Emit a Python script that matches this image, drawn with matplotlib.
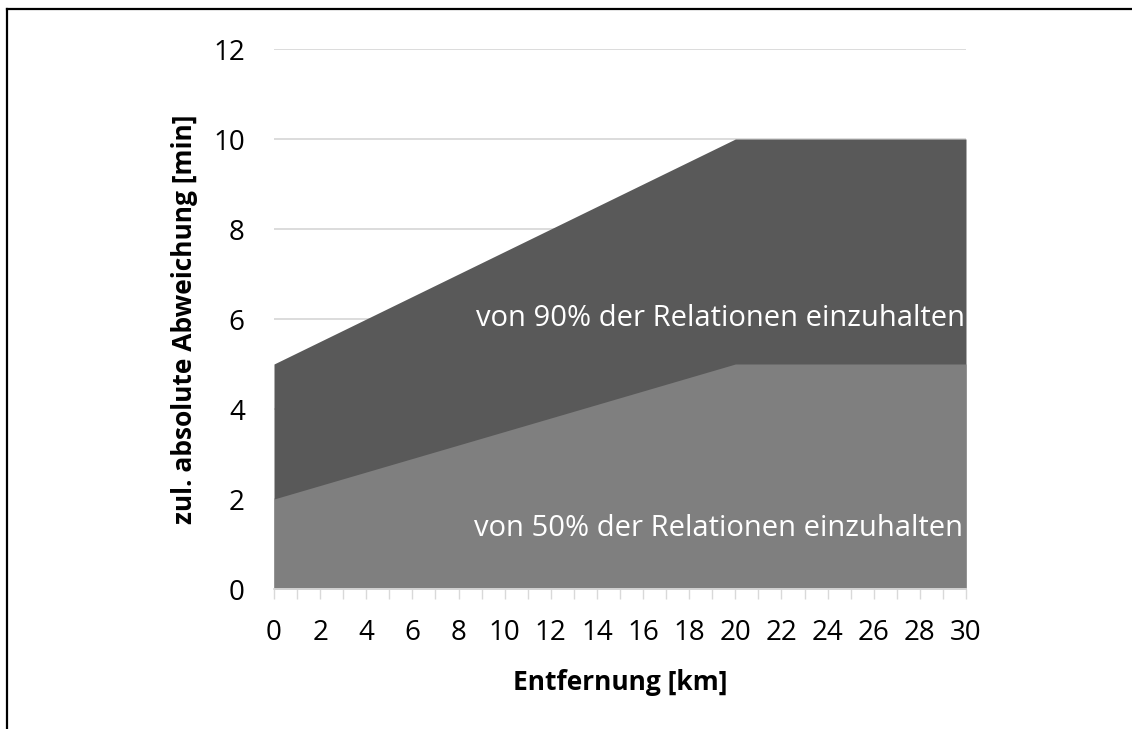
import matplotlib
matplotlib.use("Agg")
import matplotlib.pyplot as plt
from matplotlib.lines import Line2D
import numpy as np

km = list(range(0, 31))
p50 = [2.0, 2.15, 2.3, 2.45, 2.6, 2.75, 2.9, 3.05, 3.2, 3.35,
       3.5, 3.65, 3.8, 3.95, 4.1, 4.25, 4.4, 4.55, 4.7, 4.85,
       5.0, 5.0, 5.0, 5.0, 5.0, 5.0, 5.0, 5.0, 5.0, 5.0, 5.0]
p90 = [5.0, 5.25, 5.5, 5.75, 6.0, 6.25, 6.5, 6.75, 7.0, 7.25,
       7.5, 7.75, 8.0, 8.25, 8.5, 8.75, 9.0, 9.25, 9.5, 9.75,
       10.0, 10.0, 10.0, 10.0, 10.0, 10.0, 10.0, 10.0, 10.0, 10.0, 10.0]
label90 = "von 90% der Relationen einzuhalten"
label50 = "von 50% der Relationen einzuhalten"
xticks = list(range(0, 31, 2))
yticks = list(range(0, 13, 2))

plt.rcParams['font.family'] = ['Open Sans', 'DejaVu Sans']

fig = plt.figure(figsize=(11.32, 7.29), dpi=100)
ax = fig.add_axes([274 / 1132, 1 - 589 / 729, (966 - 274) / 1132, (589 - 49) / 729])

grau = '#d9d9d9'
ax.fill_between(km, 0, p90, color='#595959', lw=0, zorder=2)
ax.fill_between(km, 0, p50, color='#7f7f7f', lw=0, zorder=3)

ax.set_xlim(0, 30)
ax.set_ylim(0, 12)
ax.set_yticks(yticks)
ax.set_xticks(xticks)
ax.set_xticks(km, minor=True)
ax.grid(axis='y', color=grau, lw=1.3, zorder=1)
ax.set_axisbelow(True)

for s in ['top', 'right', 'left']:
    ax.spines[s].set_visible(False)
ax.spines['bottom'].set_color(grau)
ax.spines['bottom'].set_linewidth(1.3)
ax.spines['bottom'].set_zorder(4)

ax.tick_params(axis='y', length=0, pad=21, labelsize=20, labelcolor='black')
ax.tick_params(axis='x', which='both', length=7.5, width=1, color=grau,
               direction='out', labelsize=20, pad=14)

ax.set_xlabel("Entfernung [km]", fontsize=19, fontweight='bold', labelpad=16)
ax.set_ylabel("zul. absolute Abweichung [min]", fontsize=19, fontweight='bold', labelpad=11)

ax.text(19.35, 6.0, label90, color='white', fontsize=21, ha='center', va='center',
        zorder=5, clip_on=True)
ax.text(19.25, 1.35, label50, color='white', fontsize=21, ha='center', va='center',
        zorder=5, clip_on=True)

# Rahmen (nur links und oben sichtbar)
fig.add_artist(Line2D([6.5 / 1132, 6.5 / 1132], [0, 1 - 8.5 / 729],
                      transform=fig.transFigure, color='black', lw=1.6))
fig.add_artist(Line2D([6.5 / 1132, 1], [1 - 8.5 / 729, 1 - 8.5 / 729],
                      transform=fig.transFigure, color='black', lw=1.6))

fig.savefig("out.png", dpi=100)
